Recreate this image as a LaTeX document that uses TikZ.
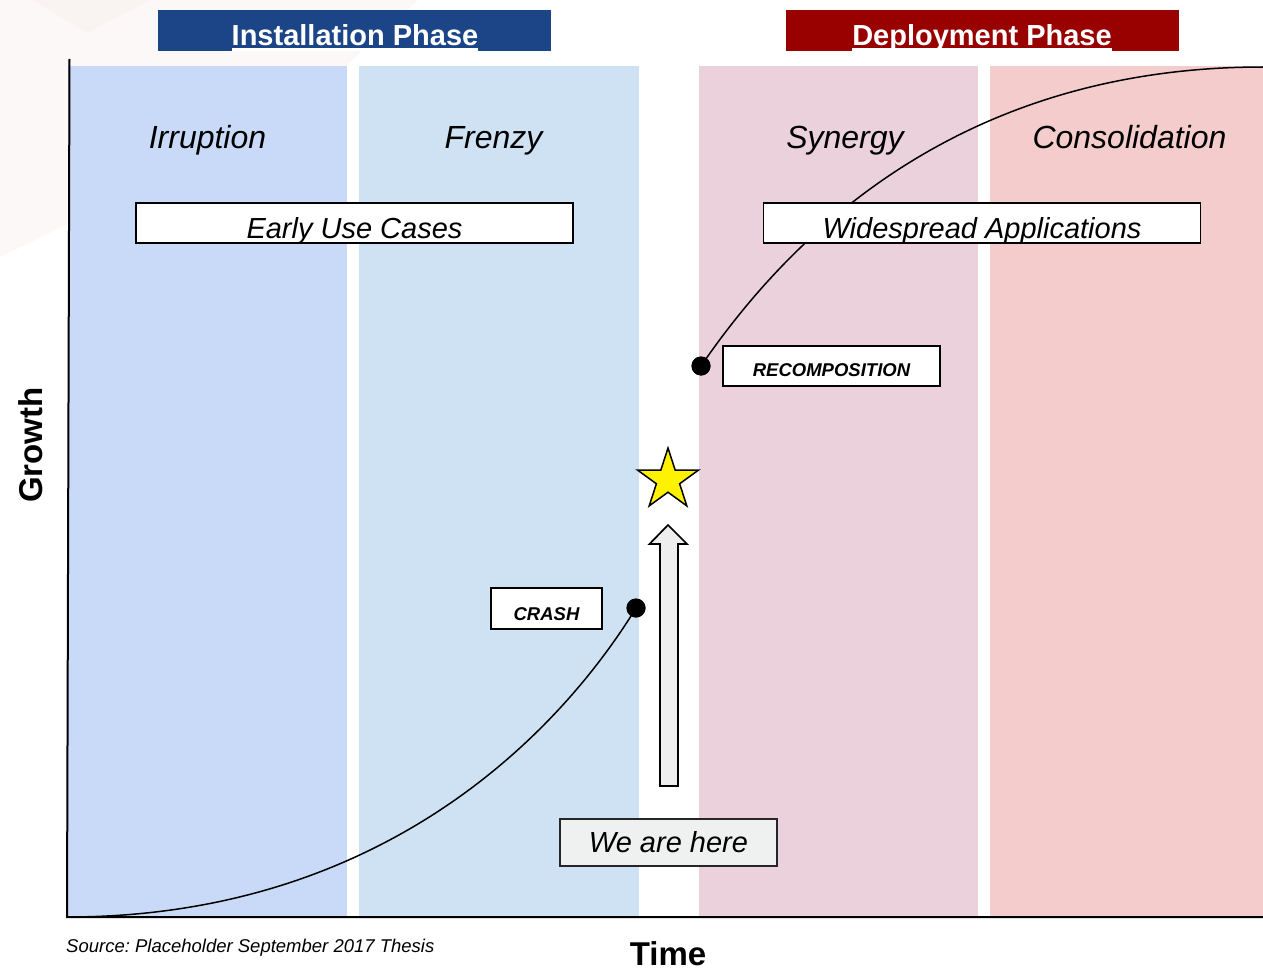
\documentclass[tikz,border=0pt]{standalone}
\usepackage{fontspec}
\setmainfont{Liberation Sans}
\usetikzlibrary{shapes.geometric}
\frenchspacing

\definecolor{instblue}{HTML}{1C4587}
\definecolor{deplred}{HTML}{990000}
\definecolor{irrfill}{HTML}{C9DAF8}
\definecolor{frzfill}{HTML}{CFE2F3}
\definecolor{synfill}{HTML}{EAD1DC}
\definecolor{consfill}{HTML}{F4CCCC}
\definecolor{herefill}{HTML}{EFF1F1}
\definecolor{arrowfill}{HTML}{EEEEEE}
\definecolor{tintA}{HTML}{FBF8F7}
\definecolor{tintB}{HTML}{F9F3F2}

% font size in points, leading equal to size
\newcommand{\pxfont}[1]{\fontsize{#1}{#1}\selectfont}

\begin{document}
\begin{tikzpicture}[x=1pt,y=-1pt,
  phasehdr/.style={rectangle, inner sep=0pt, minimum width=393pt, minimum height=41pt},
  hdrtext/.style={text=white, font=\pxfont{29}\bfseries, inner sep=0pt, anchor=base},
  coltitle/.style={font=\pxfont{32}\itshape, inner sep=0pt, anchor=base},
  labelbox/.style={draw=black, line width=1.7pt, fill=white, inner xsep=0pt, inner ysep=0pt},
  bigbox/.style={labelbox, font=\pxfont{29}\itshape, minimum width=437pt, text height=35.5pt, text depth=4.5pt},
  smallbox/.style={labelbox, font=\pxfont{18.5}\bfseries\itshape},
  dot/.style={circle, fill=black, inner sep=0pt, minimum size=19pt},
  curve/.style={line width=1.5pt},
  axis/.style={line width=2pt},
  axislabel/.style={font=\pxfont{33}\bfseries, inner sep=0pt, anchor=base}
]
\useasboundingbox (0,0) rectangle (1263,971);
\fill[white] (0,0) rectangle (1263,971);

% faint backdrop facets in the upper left
\fill[tintA] (0,0) -- (418,0) -- (330,80) -- (68,224) -- (0,257) -- cycle;
\fill[tintB] (33,0) -- (150,0) -- (87,33) -- cycle;

% phase columns
\fill[irrfill]  (68,66)  rectangle (347,917);
\fill[frzfill]  (359,66) rectangle (639,917);
\fill[synfill]  (699,66) rectangle (978,917);
\fill[consfill] (990,66) rectangle (1263,917);

% phase headers
\node[phasehdr, fill=instblue] (insthdr) at (354.5,30.5) {};
\node[hdrtext] (insttxt) at (355,46) {Installation Phase};
\draw[white, line width=2.5pt] ([yshift=-3.5pt]insttxt.base west) -- ([yshift=-3.5pt]insttxt.base east);
\node[phasehdr, fill=deplred] (deplhdr) at (982.5,30.5) {};
\node[hdrtext] (depltxt) at (982,46) {Deployment Phase};
\draw[white, line width=2.5pt] ([yshift=-3.5pt]depltxt.base west) -- ([yshift=-3.5pt]depltxt.base east);

% column titles
\node[coltitle] (irr)  at (207.5,148) {Irruption};
\node[coltitle] (frz)  at (493.5,148) {Frenzy};
\node[coltitle] (syn)  at (845,148)   {Synergy};
\node[coltitle] (cons) at (1129.5,148) {Consolidation};

% growth curves
\coordinate (origin) at (67,917);
\coordinate (ytop) at (69.5,59);
\coordinate (xend) at (1263,917);
\coordinate (topend) at (1263,67);
\node[dot] (crashdot) at (636,608) {};
\node[dot] (recdot) at (701,366) {};
\draw[curve] (origin) .. controls (381,917) and (558,735) .. (crashdot.center);
\draw[curve] (recdot.center) .. controls (786,242) and (953,67) .. (topend);
\node[dot] at (crashdot) {};
\node[dot] at (recdot) {};

% usage boxes
\node[bigbox] (early) at (354.5,223) {Early Use Cases};
\node[bigbox] (wide)  at (982,223)   {Widespread Applications};

% event labels
\node[smallbox, minimum width=217pt, text height=30.7pt, text depth=9.3pt] (recomp) at (831.5,366) {RECOMPOSITION};
\node[smallbox, minimum width=111pt, text height=32pt, text depth=9pt] (crash) at (546.5,608.5) {CRASH};

% present position marker
\node[labelbox, fill=herefill, draw=black!85, font=\pxfont{29}\itshape, minimum width=217pt, text height=33.7pt, text depth=13.3pt] (here) at (668.5,842.5) {We are here};
\draw[line width=1.7pt, fill=arrowfill] (660,786) -- (660,544) -- (649.5,544) -- (668,525) -- (687,544) -- (678,544) -- (678,786) -- cycle;
\node[star, star points=5, star point ratio=2.62, minimum size=64pt, inner sep=0pt, fill=yellow, draw=black, line width=1.5pt] (star) at (668,480) {};

% axes
\draw[axis] (ytop) -- (origin) -- (xend);
\node[axislabel, rotate=90] (growth) at (42.5,445) {Growth};
\node[axislabel] (time) at (668,965) {Time};
\node[font=\pxfont{18.5}\itshape, inner sep=0pt, anchor=base west] (source) at (66,952.5) {Source: Placeholder September 2017 Thesis};
\end{tikzpicture}
\end{document}
